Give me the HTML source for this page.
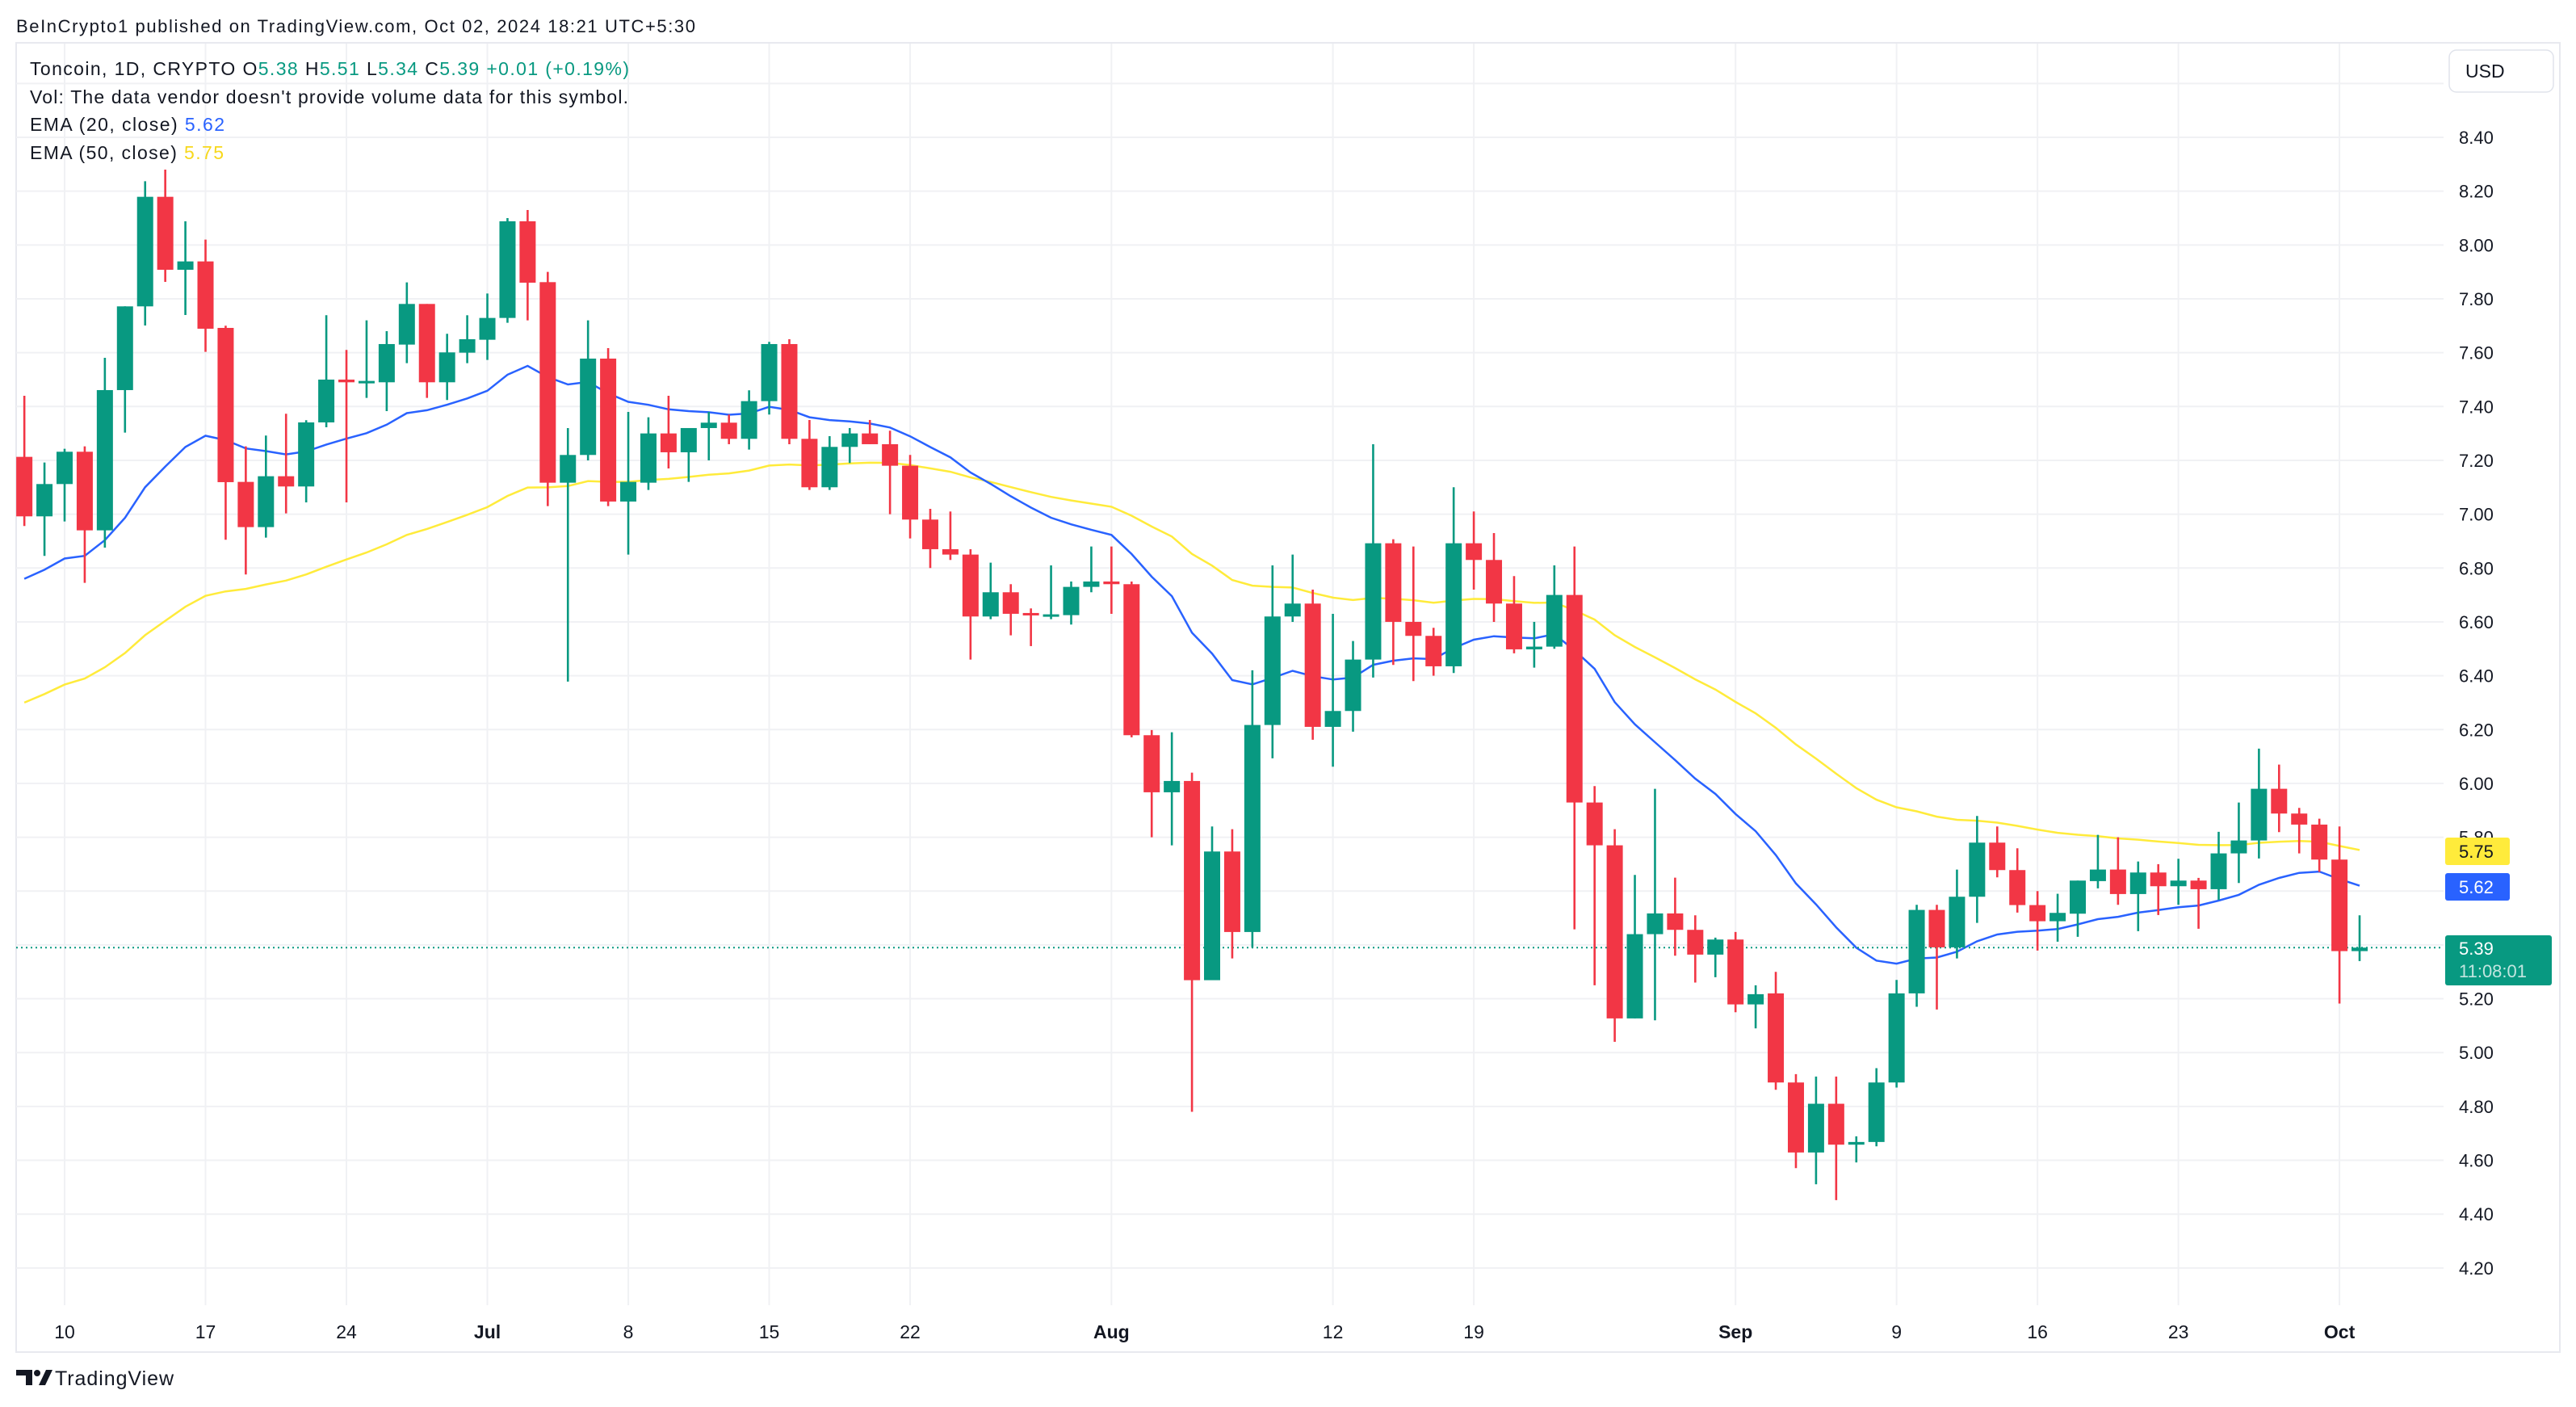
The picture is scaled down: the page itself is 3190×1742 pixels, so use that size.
<!DOCTYPE html>
<html><head><meta charset="utf-8"><style>
html,body{margin:0;padding:0;background:#fff;}
svg{display:block;}
text{font-family:"Liberation Sans",sans-serif;}
</style></head><body>
<svg id="chart" xmlns="http://www.w3.org/2000/svg" width="3190" height="1742" viewBox="0 0 3190 1742">
<rect x="0" y="0" width="3190" height="1742" fill="#ffffff"/>
<text x="20" y="40" font-size="22" fill="#131722" textLength="841">BeInCrypto1 published on TradingView.com, Oct 02, 2024 18:21 UTC+5:30</text>
<rect x="20" y="53" width="3150" height="1621" fill="none" stroke="#e8e9ef" stroke-width="2"/>
<g id="grid"></g>
<g id="ema"></g>
<g id="candles"></g>
<g id="axis"></g>
<g id="xaxis"></g>
<g>
<text x="37" y="93" font-size="23" fill="#131722" textLength="742">Toncoin, 1D, CRYPTO  O<tspan fill="#089981">5.38</tspan>  H<tspan fill="#089981">5.51</tspan>  L<tspan fill="#089981">5.34</tspan>  C<tspan fill="#089981">5.39</tspan>  <tspan fill="#089981">+0.01 (+0.19%)</tspan></text>
<text x="37" y="128" font-size="23" fill="#131722" textLength="741">Vol: The data vendor doesn't provide volume data for this symbol.</text>
<text x="37" y="162" font-size="23" fill="#131722" textLength="241">EMA (20, close)  <tspan fill="#2962ff">5.62</tspan></text>
<text x="37" y="197" font-size="23" fill="#131722" textLength="240">EMA (50, close)  <tspan fill="#f7d81c">5.75</tspan></text>
</g>
<g>
<rect x="3033" y="62" width="129" height="52" rx="9" fill="#fff" stroke="#e0e3eb" stroke-width="1.5"/>
<text x="3053" y="96" font-size="23" fill="#131722">USD</text>
</g>
<g>
<path d="M20 1696 h20 v19 h-8 v-12 h-12 z" fill="#131722"/>
<circle cx="46" cy="1700" r="4" fill="#131722"/>
<path d="M48 1715 l9 -19 h8 l-9 19 z" fill="#131722"/>
<text x="68" y="1715" font-size="25" fill="#131722" textLength="147">TradingView</text>
</g>
</svg>
<script>
const opens  = [7.213,6.992,7.112,7.232,6.94,7.461,7.772,8.179,7.908,7.939,7.692,7.12,6.952,7.141,7.103,7.341,7.50,7.49,7.49,7.63,7.781,7.49,7.60,7.648,7.729,8.088,7.862,7.117,7.22,7.578,7.047,7.117,7.30,7.23,7.32,7.34,7.28,7.42,7.632,7.28,7.10,7.25,7.30,7.26,7.18,6.98,6.87,6.85,6.62,6.71,6.633,6.625,6.625,6.73,6.75,6.74,6.179,5.967,6.009,5.269,5.747,5.448,6.217,6.62,6.668,6.21,6.269,6.46,6.892,6.60,6.548,6.435,6.892,6.83,6.668,6.498,6.508,6.70,5.929,5.77,5.127,5.44,5.517,5.456,5.364,5.42,5.179,5.22,4.889,4.629,4.81,4.658,4.668,4.889,5.22,5.53,5.391,5.579,5.78,5.678,5.548,5.488,5.516,5.637,5.68,5.589,5.669,5.618,5.639,5.607,5.74,5.788,5.98,5.888,5.847,5.717,5.377];
const highs  = [7.44,7.192,7.243,7.252,7.581,7.772,8.237,8.28,8.088,8.02,7.70,7.252,7.292,7.373,7.349,7.739,7.61,7.72,7.68,7.861,7.781,7.67,7.739,7.82,8.10,8.13,7.90,7.32,7.72,7.617,7.38,7.36,7.44,7.32,7.38,7.37,7.46,7.64,7.65,7.35,7.29,7.32,7.35,7.31,7.22,7.02,7.01,6.87,6.82,6.74,6.65,6.81,6.75,6.88,6.88,6.75,6.198,6.19,6.04,5.84,5.83,6.42,6.81,6.85,6.72,6.63,6.529,7.26,6.907,6.88,6.578,7.10,7.01,6.93,6.77,6.60,6.81,6.88,5.99,5.83,5.66,5.98,5.65,5.51,5.427,5.448,5.25,5.30,4.92,4.911,4.911,4.689,4.942,5.27,5.549,5.549,5.68,5.879,5.84,5.759,5.60,5.59,5.639,5.809,5.80,5.71,5.70,5.72,5.649,5.82,5.929,6.129,6.07,5.909,5.869,5.84,5.51];
const lows   = [6.956,6.845,6.973,6.745,6.876,7.303,7.701,7.863,7.74,7.603,6.905,6.776,6.913,7.003,7.044,7.323,7.044,7.432,7.383,7.561,7.432,7.424,7.561,7.573,7.711,7.72,7.03,6.378,7.2,7.03,6.85,7.09,7.17,7.12,7.20,7.26,7.24,7.37,7.26,7.09,7.09,7.19,7.26,7.00,6.91,6.80,6.83,6.46,6.61,6.55,6.51,6.61,6.59,6.71,6.63,6.171,5.80,5.77,4.78,5.269,5.35,5.39,6.093,6.60,6.162,6.062,6.192,6.393,6.44,6.38,6.40,6.41,6.72,6.60,6.483,6.43,6.50,5.458,5.25,5.04,5.127,5.12,5.36,5.26,5.28,5.15,5.09,4.862,4.571,4.511,4.452,4.592,4.652,4.87,5.17,5.16,5.35,5.482,5.651,5.52,5.379,5.412,5.43,5.61,5.549,5.451,5.511,5.549,5.46,5.567,5.63,5.721,5.819,5.74,5.671,5.182,5.34];
const closes = [6.992,7.112,7.232,6.94,7.461,7.772,8.179,7.908,7.939,7.689,7.119,6.952,7.141,7.103,7.341,7.50,7.49,7.495,7.632,7.781,7.49,7.601,7.65,7.729,8.088,7.86,7.117,7.22,7.578,7.047,7.12,7.30,7.23,7.32,7.34,7.28,7.42,7.632,7.28,7.10,7.25,7.30,7.26,7.18,6.98,6.87,6.85,6.62,6.71,6.63,6.625,6.628,6.73,6.75,6.74,6.179,5.967,6.009,5.269,5.747,5.448,6.217,6.62,6.668,6.21,6.269,6.46,6.892,6.60,6.548,6.435,6.892,6.83,6.668,6.498,6.508,6.70,5.929,5.77,5.127,5.44,5.517,5.456,5.364,5.42,5.179,5.217,4.889,4.629,4.81,4.658,4.668,4.889,5.22,5.53,5.391,5.579,5.78,5.678,5.548,5.488,5.519,5.639,5.68,5.589,5.669,5.618,5.639,5.607,5.74,5.788,5.98,5.888,5.847,5.717,5.377,5.39];
const ema20Seed = 6.76;
const ema50Seed = 6.30;
const priceTicks = [8.40,8.20,8.00,7.80,7.60,7.40,7.20,7.00,6.80,6.60,6.40,6.20,6.00,5.80,5.60,5.40,5.20,5.00,4.80,4.60,4.40,4.20];
const gridPrices = [8.60,8.40,8.20,8.00,7.80,7.60,7.40,7.20,7.00,6.80,6.60,6.40,6.20,6.00,5.80,5.60,5.40,5.20,5.00,4.80,4.60,4.40,4.20];
const dateLabels = ["10","17","24","Jul","8","15","22","Aug","12","19","Sep","9","16","23","Oct"];
const dateIndex  = [2,9,16,23,30,37,44,54,65,72,85,93,100,107,115];
const emaLabels = [5.75,5.62];
const lastPrice = 5.39;
const countdown = "11:08:01";

const NS="http://www.w3.org/2000/svg";
function yOf(p){return 170+(8.40-p)*333.3;}
function xOf(i){return 80+(i-2)*24.93;}
function mk(tag,attrs,parent){const e=document.createElementNS(NS,tag);for(const k in attrs)e.setAttribute(k,attrs[k]);parent.appendChild(e);return e;}
const grid=document.getElementById('grid');
gridPrices.forEach(p=>{
  const l=mk('line',{x1:20,x2:3026,y1:yOf(p),y2:yOf(p),stroke:'#f0f1f4','stroke-width':2},grid);
  
  
});
dateIndex.forEach(i=>{
  const l=mk('line',{x1:xOf(i),x2:xOf(i),y1:54,y2:1616,stroke:'#f0f1f4','stroke-width':2},grid);
  
  
});
// EMA
function ema(seed,n){const a=2/(n+1);const out=[seed];for(let i=1;i<closes.length;i++)out.push(out[i-1]+a*(closes[i]-out[i-1]));return out;}
const e20=ema(ema20Seed,20), e50=ema(ema50Seed,50);
const eg=document.getElementById('ema');
const p50=mk('polyline',{points:e50.map((v,i)=>xOf(i).toFixed(1)+','+yOf(v).toFixed(1)).join(' '),fill:'none',stroke:'#ffeb3b','stroke-width':2.5},eg);


const p20=mk('polyline',{points:e20.map((v,i)=>xOf(i).toFixed(1)+','+yOf(v).toFixed(1)).join(' '),fill:'none',stroke:'#2962ff','stroke-width':2.5},eg);


// last price line
const lp=mk('line',{x1:20,x2:3026,y1:yOf(lastPrice),y2:yOf(lastPrice),stroke:'#089981','stroke-width':2,'stroke-dasharray':'2 4'},eg);


// candles
const cg=document.getElementById('candles');
for(let i=0;i<closes.length;i++){
  const up=closes[i]>=opens[i];const col=up?'#089981':'#f23645';const x=xOf(i);
  const g=mk('g',{},cg);
  
  
  mk('line',{x1:x,x2:x,y1:yOf(highs[i]),y2:yOf(lows[i]),stroke:col,'stroke-width':2.6},g);
  const t=yOf(Math.max(opens[i],closes[i])),b=yOf(Math.min(opens[i],closes[i]));
  mk('rect',{x:x-10,y:t,width:20,height:Math.max(b-t,3),fill:col},g);
}
// price axis
const ax=document.getElementById('axis');
priceTicks.forEach(p=>{
  const t=mk('text',{x:3045,y:yOf(p)+8,'font-size':22,fill:'#131722'},ax);
  t.textContent=p.toFixed(2);
  
  
});
const emaCols=['#ffeb3b','#2962ff'],emaTxt=['#131722','#ffffff'],emaNames=['ema50-price-label','ema20-price-label'];
emaLabels.forEach((v,k)=>{
  const g=mk('g',{},ax);
  
  
  const yc=k===0?1054:1098;
  mk('rect',{x:3028,y:yc-17,width:80,height:34,rx:3,fill:emaCols[k]},g);
  const t=mk('text',{x:3045,y:yc+8,'font-size':22,fill:emaTxt[k]},g);t.textContent=v.toFixed(2);
});
const lg=mk('g',{},ax);


mk('rect',{x:3028,y:1158,width:132,height:62,rx:3,fill:'#089981'},lg);
const lt=mk('text',{x:3045,y:1182,'font-size':22,fill:'#ffffff'},lg);lt.textContent=lastPrice.toFixed(2);
const ct=mk('text',{x:3045,y:1210,'font-size':22,fill:'#ffffff','fill-opacity':0.75},lg);ct.textContent=countdown;
// time axis
const xa=document.getElementById('xaxis');
dateLabels.forEach((s,k)=>{
  const bold=/[A-Za-z]/.test(s);
  const t=mk('text',{x:xOf(dateIndex[k]),y:1657,'font-size':23,fill:'#131722','text-anchor':'middle','font-weight':bold?'bold':'normal'},xa);
  t.textContent=s;
  
  
});
</script>
</body></html>
